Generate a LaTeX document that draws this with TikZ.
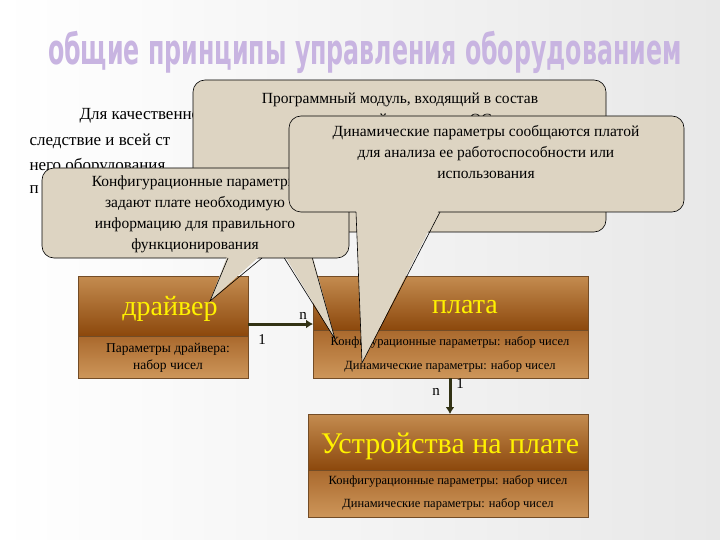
\documentclass[tikz,border=0pt]{standalone}
\usepackage{fontspec}
\usetikzlibrary{arrows.meta}
\setmainfont{Liberation Serif}
\newfontfamily\titlefont{DejaVu Sans Condensed}
\begin{document}
\begin{tikzpicture}[x=1pt,y=-1pt,
  callout/.style={fill=callfill,draw=black,line width=0.6pt,rounded corners=12pt},
  ctext/.style={align=center,font=\fontsize{15.5}{21}\selectfont},
  head/.style={top color=hdtop,bottom color=hdbot,draw=brown!60!black,line width=0.5pt},
  body/.style={top color=bdtop,bottom color=bdbot,draw=brown!60!black,line width=0.5pt},
  htext/.style={text=yellow,font=\fontsize{28}{30}\selectfont},
  ptext/.style={font=\fontsize{12.5}{15}\selectfont,align=center},
  conn/.style={draw=arrowc,line width=3pt,-{Latex[length=7pt,width=9pt]}},
  lbl/.style={font=\fontsize{15}{16}\selectfont}]
\definecolor{callfill}{RGB}{221,212,194}
\definecolor{hdtop}{RGB}{196,140,80}
\definecolor{hdbot}{RGB}{140,72,12}
\definecolor{bdtop}{RGB}{170,105,45}
\definecolor{bdbot}{RGB}{205,150,90}
\definecolor{arrowc}{RGB}{50,50,20}
\definecolor{titlec}{RGB}{200,180,225}
\useasboundingbox (0,0) rectangle (720,540);
\shade[left color=white,right color=gray!18] (0,0) rectangle (720,540);
% title
\node[font=\titlefont\bfseries\fontsize{40}{42}\selectfont,text=titlec,xscale=0.66,yscale=1.05] (title) at (365,52)
  {общие принципы управления оборудованием};
% background text
\node[anchor=west,font=\fontsize{17}{18}\selectfont] (t1) at (76,116) {Для качественно};
\node[anchor=west,font=\fontsize{17}{18}\selectfont] (t2) at (26,141) {следствие и всей ст};
\node[anchor=west,font=\fontsize{17}{18}\selectfont] (t3) at (26,166) {него оборудования};
\node[anchor=west,font=\fontsize{17}{18}\selectfont] (t4) at (26,190) {п};
% boxes
\shade[head] (78,276) rectangle (248,336);
\shade[body] (78,336) rectangle (248,378);
\node[htext] (drv) at (170,309) {драйвер};
\node[ptext,font=\fontsize{13.5}{17}\selectfont] (drvp) at (168,358) {Параметры драйвера:\\набор чисел};
\shade[head] (313,276) rectangle (588,330);
\shade[body] (313,330) rectangle (588,378);
\node[htext] (pl) at (465,307) {плата};
\node[ptext] (plc) at (450,342) {Конфигурационные параметры: набор чисел};
\node[ptext] (pld) at (450,366) {Динамические параметры: набор чисел};
\shade[head] (308,414) rectangle (588,470);
\shade[body] (308,470) rectangle (588,517);
\node[htext,font=\fontsize{30}{32}\selectfont] (dev) at (450,446) {Устройства на плате};
\node[ptext] (devc) at (448,481) {Конфигурационные параметры: набор чисел};
\node[ptext] (devd) at (448,504) {Динамические параметры: набор чисел};
\coordinate (a1) at (248,324); \coordinate (a2) at (313,324);
\draw[conn] (a1) -- (a2);
\coordinate (b1) at (450,378); \coordinate (b2) at (450,414);
\draw[conn] (b1) -- (b2);
\node[lbl] (n1) at (303,316) {n};
\node[lbl] (o1) at (262,340) {1};
\node[lbl] (n2) at (436,392) {n};
\node[lbl] (o2) at (460,384) {1};
% callout: program module
\path[callout] (193,80) rectangle (606,232);
\fill[callfill] (268,228) -- (335,339) -- (305,228) -- cycle;
\draw[line width=0.6pt] (268,232) -- (335,339) -- (305,232);
\node[ctext] (cp) at (400,131) {Программный модуль, входящий в состав\\управляющей программы ОС и\\управляющий платой,\\находящийся в компьютере};
% callout: config
\path[callout] (42,168) rectangle (349,258);
\fill[callfill] (228,254) -- (210,301) -- (262,254) -- cycle;
\draw[line width=0.6pt] (228,258) -- (210,301) -- (262,258);
\node[ctext] (cc) at (195,214) {Конфигурационные параметры\\задают плате необходимую\\информацию для правильного\\функционирования};
% callout: dynamic
\path[callout] (289,116) rectangle (684,212);
\fill[callfill] (356,208) -- (362,363) -- (440,208) -- cycle;
\draw[line width=0.6pt] (356,212) -- (362,363) -- (440,212);
\node[ctext] (cd) at (486,152) {Динамические параметры сообщаются платой\\для анализа ее работоспособности или\\использования};
\end{tikzpicture}
\end{document}
